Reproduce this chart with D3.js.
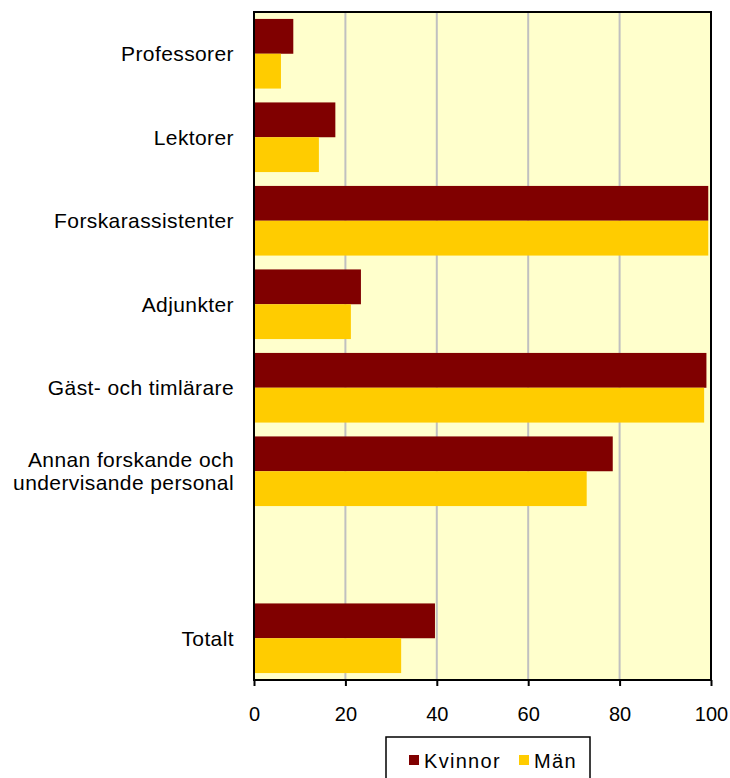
<!DOCTYPE html>
<html><head><meta charset="utf-8">
<script src="https://cdn.jsdelivr.net/npm/d3@7"></script>
<style>body{margin:0;background:#fff}svg{display:block;font-family:"Liberation Sans",Arial,sans-serif}</style>
</head><body><svg id="c" width="730" height="778"></svg>
<script>
const categories = [["Professorer"],["Lektorer"],["Forskarassistenter"],["Adjunkter"],["Gäst- och timlärare"],["Annan forskande och","undervisande personal"],[""],["Totalt"]];
const kvinnor = [8.6, 17.8, 99.4, 23.4, 99.0, 78.5, null, 39.6];
const man = [5.9, 14.2, 99.4, 21.2, 98.5, 72.8, null, 32.2];
const ticks = [0,20,40,60,80,100];
const seriesNames = ["Kvinnor","Män"];
const colors = ["#800000","#FFCC00"];

const svg = d3.select("#c");
const L=254, R=711, T=12, B=680;
const x = d3.scaleLinear().domain([0,100]).range([L,R]);
const y = d3.scaleBand().domain(d3.range(categories.length)).range([T,B]).paddingInner(0.166).paddingOuter(0.083);
svg.append("rect").attr("x",L).attr("y",T).attr("width",R-L).attr("height",B-T).attr("fill","#FFFFCC");
svg.append("g").selectAll("line").data(ticks.slice(1,-1)).join("line")
  .attr("x1",d=>x(d)).attr("x2",d=>x(d)).attr("y1",T).attr("y2",B).attr("stroke","#C0C0C0").attr("stroke-width",2);
const half = y.bandwidth()/2;
[kvinnor,man].forEach((arr,si)=>{
  svg.append("g").selectAll("rect").data(arr.map((v,i)=>({v,i})).filter(d=>d.v!=null)).join("rect")
    .attr("x",x(0)).attr("y",d=>y(d.i)+si*half).attr("width",d=>x(d.v)-x(0)).attr("height",half)
    .attr("fill",colors[si]);
});
svg.append("rect").attr("x",L).attr("y",T).attr("width",R-L).attr("height",B-T).attr("fill","none").attr("stroke","#000").attr("stroke-width",2);
// x axis
const xa = svg.append("g").attr("transform",`translate(0,${B})`).call(d3.axisBottom(x).tickValues(ticks).tickSize(6).tickPadding(21));
xa.select(".domain").remove();
xa.selectAll("line").attr("stroke","#000").attr("stroke-width",2);
xa.selectAll("text").attr("font-size",20).attr("fill","#000").attr("font-family","Liberation Sans, Arial, sans-serif");
// y labels
const lab = svg.append("g");
categories.forEach((lines,i)=>{
  const cy = y(i)+y.bandwidth()/2;
  const n = lines.length;
  lines.forEach((t,j)=>{
    lab.append("text").attr("x",234).attr("y",cy+(j-(n-1)/2)*23).attr("dy","0.35em")
      .attr("text-anchor","end").attr("font-size",21).attr("letter-spacing",0.4).attr("fill","#000").text(t);
  });
});
// legend
const lg = svg.append("g");
lg.append("rect").attr("x",386).attr("y",737).attr("width",204).attr("height",50).attr("fill","#fff").attr("stroke","#000").attr("stroke-width",1.5);
const lx=[409,519];
seriesNames.forEach((s,i)=>{
  lg.append("rect").attr("x",lx[i]).attr("y",755).attr("width",10).attr("height",10).attr("fill",colors[i]);
  lg.append("text").attr("x",lx[i]+15).attr("y",761).attr("dy","0.35em").attr("font-size",20).attr("letter-spacing",1.3).attr("fill","#000").text(s);
});
</script></body></html>
